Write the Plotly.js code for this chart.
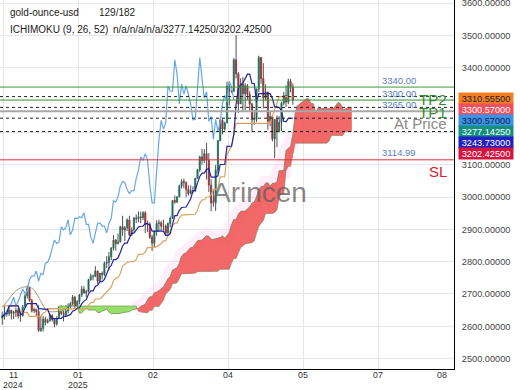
<!DOCTYPE html>
<html><head><meta charset="utf-8">
<script src="https://cdn.plot.ly/plotly-3.0.1.min.js"></script>
<style>html,body{margin:0;padding:0;background:#fff;}#chart{width:520px;height:390px;}</style>
</head><body><div id="chart"></div>
<script>
// ---------- DATA ----------
const symbol = "gold-ounce-usd";
const barsShown = 129, barsTotal = 182;
const indicatorName = "ICHIMOKU (9, 26, 52)";

const open = [2626,2633,2638,2640,2650,2640,2643,2650,2632,2633,
2660,2694,2718,2680,2648,2652,2646,2587,2594,2622,
2612,2617,2634,2621,2607,2625,2658,2640,2636,2648,
2661,2670,2690,2663,2677,2697,2715,2703,2708,2745,
2755,2755,2771,2740,2764,2760,2795,2798,2815,2842,
2867,2856,2861,2908,2898,2905,2929,2883,2898,2935,
2933,2939,2936,2951,2915,2916,2876,2857,2893,2918,
2920,2910,2910,2889,2918,2934,2989,2984,3001,3034,
3048,3044,3023,3011,3020,3019,3057,3084,3124,3113,
3134,3114,3037,2982,2982,3083,3175,3237,3210,3229,
3343,3327,3327,3424,3381,3288,3349,3319,3344,3317,
3288,3239,3240,3334,3431,3366,3306,3325,3234,3249,
3179,3240,3204,3231,3290,3314,3294,3357,3341];
const high = [2646,2664,2650,2665,2650,2648,2658,2656,2645,2666,
2700,2726,2722,2685,2658,2655,2665,2633,2632,2630,
2624,2639,2637,2626,2631,2664,2665,2649,2665,2671,
2675,2697,2694,2681,2700,2725,2724,2713,2747,2763,
2760,2786,2772,2765,2770,2800,2817,2830,2845,2882,
2870,2887,2911,2942,2910,2934,2942,2906,2938,2946,
2955,2954,2956,2956,2927,2922,2883,2894,2928,2930,
2926,2930,2915,2921,2940,2990,3005,3001,3038,3055,
3057,3048,3036,3036,3033,3060,3087,3128,3149,3148,
3167,3136,3055,3023,3099,3175,3245,3245,3233,3357,
3357,3330,3430,3500,3386,3367,3371,3352,3349,3327,
3290,3269,3335,3437,3433,3414,3348,3325,3265,3252,
3240,3252,3250,3295,3325,3345,3366,3365,3351];
const low = [2605,2621,2630,2632,2621,2622,2629,2624,2614,2630,
2660,2686,2676,2643,2641,2631,2583,2583,2584,2603,
2609,2615,2615,2597,2602,2624,2634,2615,2631,2640,
2653,2665,2656,2660,2668,2691,2701,2690,2705,2741,
2742,2752,2731,2737,2745,2755,2780,2773,2805,2835,
2834,2853,2860,2880,2864,2895,2879,2880,2893,2920,
2922,2919,2929,2889,2892,2870,2833,2846,2880,2894,
2896,2897,2880,2881,2906,2932,2979,2982,2999,3026,
3027,2999,3004,3008,3012,3016,3056,3077,3100,3105,
3054,3015,2956,2970,2957,3072,3172,3194,3205,3229,
3283,3322,3326,3367,3260,3288,3266,3268,3300,3268,
3202,3223,3232,3324,3350,3274,3298,3208,3219,3172,
3120,3154,3200,3204,3284,3278,3287,3324,3285];
const close = [2633,2638,2640,2650,2640,2643,2650,2632,2633,2660,
2694,2718,2680,2648,2652,2646,2587,2594,2622,2612,
2617,2634,2621,2607,2625,2658,2640,2636,2648,2661,
2670,2690,2663,2677,2697,2715,2703,2708,2745,2755,
2755,2771,2740,2764,2760,2795,2798,2815,2842,2867,
2856,2861,2908,2898,2905,2929,2883,2898,2935,2933,
2939,2936,2951,2915,2916,2876,2857,2893,2918,2920,
2910,2910,2889,2918,2934,2989,2984,3001,3034,3048,
3044,3023,3011,3020,3019,3057,3084,3124,3113,3134,
3114,3037,2982,2982,3083,3175,3237,3210,3229,3343,
3327,3327,3424,3381,3288,3349,3319,3344,3317,3288,
3239,3240,3334,3431,3366,3306,3325,3234,3249,3179,
3240,3204,3231,3290,3314,3294,3357,3341,3300.57];

// Tenkan-sen (dark blue line), one value per bar
const tenkan = [2628.5,2638,2641,2663,2663,2663,2663,2663,2635,2640,
2657,2670,2670,2670,2670,2670,2654.5,2654.5,2654.5,2654.5,
2652.5,2634,2624,2624,2624,2623.5,2624.5,2631,2631,2634,
2636,2647,2649.5,2656,2657.5,2670,2678,2682.5,2700,2709.5,
2709.5,2723,2727,2738,2738,2745,2761,2780.5,2788,2806.5,
2806.5,2812,2828,2848.5,2857.5,2857.5,2873.5,2888,2888,2899.5,
2907.5,2909.5,2910,2917.5,2917.5,2913,2894.5,2894.5,2894.5,2894.5,
2894.5,2894.5,2881.5,2881.5,2886.5,2918,2942.5,2942.5,2959,2967.5,
2968.5,2969,2981.5,2994.5,3018,3021,3043,3063.5,3074,3074,
3085.5,3087.5,3061.5,3061.5,3061.5,3065.5,3100.5,3100.5,3100.5,3156.5,
3156.5,3157,3193.5,3286,3336,3347,3352.5,3364.5,3380,3380,
3351,3351,3294,3319.5,3319.5,3319.5,3319.5,3319.5,3319.5,3304.5,
3278.5,3278.5,3276.5,3267,3234,3232.5,3243,3243,3243.73];
// Kijun-sen (tan line), one value per bar
const kijun = [2663,2663,2663,2663,2663,2663,2663,2663,2646.5,2643,
2643,2642.5,2631,2631,2631,2631,2631,2631,2640.5,2644,
2654.5,2654.5,2654.5,2654.5,2654.5,2654.5,2654.5,2654.5,2654.5,2654.5,
2654.5,2654.5,2654.5,2654.5,2654.5,2654.5,2654.5,2654,2665,2673,
2673,2684.5,2684.5,2685,2691.5,2698.5,2707,2713.5,2721,2742,
2748.5,2751,2763,2786.5,2791,2797.5,2799,2799,2801,2807,
2822.5,2822.5,2823,2830.5,2843.5,2843.5,2843.5,2843.5,2846.5,2850.5,
2855.5,2864.5,2864.5,2880.5,2894.5,2911.5,2919,2919,2935.5,2944,
2945,2945,2945,2945,2945,2946.5,2960,2980.5,2991,2991,
3000,3000,3006.5,3023.5,3023.5,3027.5,3062.5,3062.5,3063,3131.5,
3144.5,3156.5,3193,3228,3228,3228,3228,3228,3228,3228,
3228,3228,3228,3228,3228,3228,3228,3228,3228,3250,
3270,3290,3310.555,3310.555,3310.555,3310.555,3310.555,3310.555,3310.555];
// Senkou span A, bars 0..154 (already projected forward)
const spanA = [2658,2666,2675,2685,2695,2703,2710,2715,2719,2721,
2722,2723,2722,2718,2712,2702,2690,2676,2662,2652,
2648,2645,2645,2646,2646,2646,2645.75,2650.5,2652,2663,
2663,2663,2663,2663,2640.75,2641.5,2650,2656.25,2650.5,2650.5,
2650.5,2650.5,2642.75,2642.75,2647.5,2649.25,2653.5,2644.25,2639.25,2639.25,
2639.25,2639,2639.5,2642.75,2642.75,2644.25,2645.25,2650.75,2652,2655.25,
2656,2662.25,2666.25,2668.25,2682.5,2691.25,2691.25,2703.75,2705.75,2711.5,
2714.75,2721.75,2734,2747,2754.5,2774.25,2777.5,2781.5,2795.5,2817.5,
2824.25,2827.5,2836.25,2843.5,2844.5,2853.25,2865,2866,2866.5,2874,
2880.5,2878.25,2869,2869,2870.5,2872.5,2875,2879.5,2873,2881,
2890.5,2914.75,2930.75,2930.75,2947.25,2955.75,2956.75,2957,2963.25,2969.75,
2981.5,2983.75,3001.5,3022,3032.5,3032.5,3042.75,3043.75,3034,3042.5,
3042.5,3046.5,3081.5,3081.5,3081.75,3144,3150.5,3156.75,3193.25,3257,
3282,3287.5,3290.25,3296.25,3304,3304,3289.5,3289.5,3261,3273.75,
3273.75,3273.75,3273.75,3273.75,3273.75,3277,3274,3284,3293,3288.5,
3272,3271,3276.5,3276.5,3277.1425];
// Senkou span B, starting at bar spanBOffset
const spanBOffset = 25;
const spanB = [2663,2663,2663,2663,2663,2663,2663,2663,2663,2663,
2663,2663,2663,2663,2663,2663,2663,2663,2663,2663,
2663,2663,2663,2663,2663,2663,2663,2663,2663,2663,
2663,2663,2663,2663,2663,2646.5,2643.5,2643,2642.5,2641.5,
2649.5,2649.5,2661,2661,2661,2670.5,2681,2700,2706.5,2714,
2732.5,2732.5,2735,2747,2762.5,2762.5,2762.5,2762.5,2762.5,2762.5,
2764.5,2769,2769,2769.5,2769.5,2769.5,2769.5,2769.5,2769.5,2769.5,
2770,2776.5,2776.5,2776.5,2776.5,2776.5,2796,2810,2810,2826.5,
2843,2848.5,2855,2856.5,2856.5,2858.5,2864,2888.5,2909,2919.5,
2927,2949,2949,2949,2949,2952,2960,3000,3009,3009,
3081,3095,3095,3131.5,3166.5,3166.5,3166.5,3166.5,3166.5,3166.5,
3166.5,3166.5,3166.5,3166.5,3166.5,3166.5,3166.5,3166.5,3166.5,3173,
3190,3190,3190,3190,3190,3190,3202.425,3202.425,3202.425,3202.425];
const chikouShift = 26;

// Trade levels
const levelValues = [3340, 3300, 3265, 3114.99];
const levelNames  = ["TP2", "TP1", "At Price", "SL"];
// Last-value markers on the price scale
const lastValues = [3310.555, 3300.57, 3300.57, 3277.1425, 3243.73, 3202.425];
const dottedValues = [3310.555, 3277.1425, 3243.73, 3202.425];

// x axis tick labels
const tickMonths = ["11", "01", "02", "04", "05", "07", "08"];
const tickYears  = ["2024", "2025", "", "", "", "", ""];

// ---------- STYLE ----------
const FONT = "Liberation Sans, Arial, sans-serif";
const AXIS_FS = 9.2;
const levelColors = ["#3a9a3a", "#3a9a3a", "#a8a8a8", "#e0303c"];
const levelTextColors = ["#2f8f2f", "#2f8f2f", "#8a8a8a", "#d8202c"];
const levelWidths = [1, 1, 2, 1];
const boxColors = ["#f47f22", "#ef4f5e", "#3b93e6", "#13917e", "#2020c4", "#d6123f"];
const boxText   = ["#222222", "#ffffff", "#10204a", "#ffffff", "#ffffff", "#ffffff"];
const tickPx = [13, 78, 153, 228, 303, 378, 442];
const gridPx = [3, 78, 153, 228, 303, 378, 453];
const BOX_H = 11;

const W = 520, H = 390, M = {l: 0, r: 66, t: 0, b: 21};
const PW = W - M.l - M.r, PH = H - M.t - M.b;
const xRange = [-1, 199];
const yRange = [2468, 3609.3];
const pxToIdx = p => xRange[0] + p / PW * (xRange[1] - xRange[0]);
const valToPx = v => (yRange[1] - v) / (yRange[1] - yRange[0]) * PH;

const barIdx = close.map((_, i) => i);
const traces = [];

// soft pink glow along the rising cloud
const glowIdx = spanA.map((_, j) => j).filter(j => j >= 58 && j <= 128);
traces.push({type: "scatter", mode: "lines", x: glowIdx, y: glowIdx.map(j => spanA[j]),
  line: {color: "rgba(252,205,240,0.32)", width: 15}, hoverinfo: "skip"});

// Cloud fills split where span A crosses span B
const segs = [];
let cur = null, prev = null;
spanB.forEach((b, k) => {
  const j = k + spanBOffset, a = spanA[j];
  let s = a > b ? 1 : (a < b ? -1 : (cur ? cur.sign : -1));
  if (!cur || s !== cur.sign) {
    cur = {sign: s, xs: [], as: [], bs: []};
    if (prev) { cur.xs.push(prev.j); cur.as.push(prev.a); cur.bs.push(prev.b); }
    segs.push(cur);
  }
  cur.xs.push(j); cur.as.push(a); cur.bs.push(b);
  prev = {j, a, b};
});
segs.forEach(sg => {
  traces.push({
    type: "scatter", mode: "lines", fill: "toself",
    x: sg.xs.concat(sg.xs.slice().reverse()),
    y: sg.as.concat(sg.bs.slice().reverse()),
    fillcolor: sg.sign > 0 ? "rgba(242,88,88,0.9)" : "rgba(138,222,90,0.92)",
    line: {width: 0}, hoverinfo: "skip"
  });
});
// Span lines
traces.push({type: "scatter", mode: "lines", x: spanB.map((_, k) => k + spanBOffset), y: spanB,
  line: {color: "rgba(120,120,80,0.55)", width: 1}, hoverinfo: "skip"});
traces.push({type: "scatter", mode: "lines", x: spanA.map((_, j) => j), y: spanA,
  line: {color: "rgba(120,120,80,0.7)", width: 1}, hoverinfo: "skip"});
// Chikou (close plotted 26 bars back)
traces.push({type: "scatter", mode: "lines",
  x: barIdx.slice(chikouShift).map(i => i - chikouShift), y: close.slice(chikouShift),
  line: {color: "#66a8e6", width: 1.2}, hoverinfo: "skip"});
// Candles: colored bodies, then dark wicks on top
traces.push({type: "candlestick", x: barIdx, open, close,
  high: open.map((o, i) => Math.max(o, close[i])), low: open.map((o, i) => Math.min(o, close[i])),
  increasing: {line: {color: "#1f9d7a", width: 1}, fillcolor: "#1f9d7a"},
  decreasing: {line: {color: "#e5323f", width: 1}, fillcolor: "#e5323f"},
  whiskerwidth: 0, hoverinfo: "none"});
traces.push({type: "ohlc", x: barIdx, open, high, low, close, tickwidth: 0,
  increasing: {line: {color: "#505050", width: 1}},
  decreasing: {line: {color: "#505050", width: 1}}, hoverinfo: "none"});
// Kijun / Tenkan
traces.push({type: "scatter", mode: "lines", x: barIdx, y: kijun,
  line: {color: "#d9a461", width: 1.2}, hoverinfo: "skip"});
traces.push({type: "scatter", mode: "lines", x: barIdx, y: tenkan,
  line: {color: "#23239e", width: 1.2}, hoverinfo: "skip"});

// Shapes: levels and dotted markers
const shapes = [];
levelValues.forEach((v, i) => shapes.push({type: "line", xref: "paper", x0: 0, x1: 1, yref: "y", y0: v, y1: v,
  line: {color: levelColors[i], width: levelWidths[i]}, layer: "above"}));
dottedValues.forEach(v => shapes.push({type: "line", xref: "paper", x0: 0, x1: 1, yref: "y", y0: v, y1: v,
  line: {color: "#222", width: 1, dash: "dot"}, layer: "above"}));

// Annotations
const ann = [];
const hdr = (text, px, py) => ann.push({xref: "paper", yref: "paper", x: px / PW, y: 1 - py / PH,
  xanchor: "left", yanchor: "middle", showarrow: false, text, font: {family: FONT, size: 10, color: "#222"}});
hdr(symbol, 8, 12.5);
hdr(barsShown + "/" + barsTotal, 97, 12.5);
hdr(indicatorName, 8, 29.3);
hdr("n/a/n/a/n/a/" + spanA[spanA.length - 1].toFixed(5) + "/" + spanB[spanB.length - 1].toFixed(5), 111, 29.3);

levelValues.forEach((v, i) => {
  ann.push({xref: "paper", yref: "y", x: 380 / PW, y: v, xanchor: "left", yanchor: "middle", yshift: 7,
    showarrow: false, text: v.toFixed(2), font: {family: FONT, size: 9.5, color: "#5a7ec6"}});
  ann.push({xref: "paper", yref: "y", x: 449 / PW, y: v, xanchor: "right", yanchor: "middle", yshift: -12,
    showarrow: false, text: levelNames[i], font: {family: FONT, size: 15, color: levelTextColors[i]}});
});

// Right-side value boxes, stacked so they do not overlap
let lastCenter = -1e9, boxTop = null, boxBottom = null;
lastValues.forEach((v, i) => {
  const p = valToPx(v);
  const c = Math.max(p + 1.5, lastCenter + BOX_H);
  lastCenter = c;
  if (boxTop === null) boxTop = c - BOX_H / 2;
  boxBottom = c + BOX_H / 2;
  ann.push({xref: "paper", yref: "y", x: 1, xshift: 4, y: v, yshift: -(c - p), xanchor: "left", yanchor: "middle",
    showarrow: false, text: v.toFixed(5), bgcolor: boxColors[i], borderpad: 0, width: 54, height: BOX_H,
    font: {family: FONT, size: AXIS_FS, color: boxText[i]}});
});

// price-scale ticks; labels hidden where the value boxes cover them
const yTicks = [];
for (let v = 2500; v <= 3600; v += 100) yTicks.push(v);
const yTickText = yTicks.map(v => {
  const p = valToPx(v);
  return (p > boxTop - 4 && p < boxBottom + 3) ? "" : v.toFixed(5);
});

// Watermark
ann.push({xref: "paper", yref: "paper", x: 259 / PW, y: 1 - 192 / PH, xanchor: "center", yanchor: "middle",
  showarrow: false, text: "Arincen", font: {family: FONT, size: 28, color: "rgba(95,95,95,0.75)"}});

// x tick labels: month on the first row, year under the first month of each year
const XFS = 8.8;
tickMonths.forEach((m, i) => {
  ann.push({xref: "paper", yref: "paper", x: tickPx[i] / PW, y: 1 - 374.6 / PH, xanchor: "center", yanchor: "middle",
    showarrow: false, text: m, borderpad: 0, font: {family: FONT, size: XFS, color: "#333"}});
  if (tickYears[i]) ann.push({xref: "paper", yref: "paper", x: tickPx[i] / PW, y: 1 - 384.8 / PH, xanchor: "center",
    yanchor: "middle", showarrow: false, text: tickYears[i], borderpad: 0, font: {family: FONT, size: XFS, color: "#333"}});
});

const layout = {
  width: W, height: H, margin: M, paper_bgcolor: "#fff", plot_bgcolor: "#fff", showlegend: false,
  font: {family: FONT, size: AXIS_FS, color: "#333"},
  xaxis: {range: xRange, tickvals: gridPx.map(pxToIdx), showticklabels: false, ticks: "",
    showgrid: true, gridcolor: "#e6e6e6", zeroline: false, showline: true, linecolor: "#000", linewidth: 1,
    rangeslider: {visible: false}, fixedrange: true},
  yaxis: {side: "right", range: yRange, tickmode: "array", tickvals: yTicks, ticktext: yTickText,
    ticklabeloverflow: "allow",
    showgrid: true, gridcolor: "#e6e6e6", zeroline: false, showline: true, linecolor: "#000", linewidth: 1,
    ticks: "outside", ticklen: 5, tickcolor: "rgba(0,0,0,0)", tickfont: {family: FONT, size: AXIS_FS, color: "#444"},
    fixedrange: true},
  shapes, annotations: ann
};
Plotly.newPlot("chart", traces, layout, {staticPlot: true, displayModeBar: false});
</script></body></html>
